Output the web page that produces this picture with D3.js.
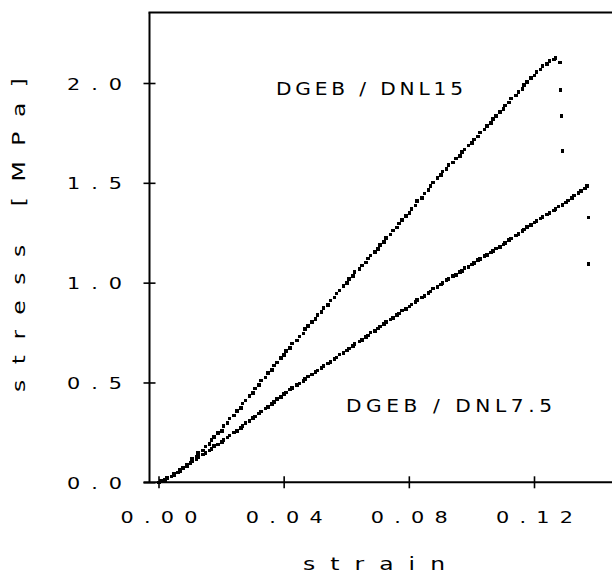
<!DOCTYPE html>
<html>
<head>
<meta charset="utf-8">
<script src="https://cdn.jsdelivr.net/npm/d3@7"></script>
<style>
  html, body { margin: 0; padding: 0; background: #fff; }
  svg { display: block; }
  text { font-family: "DejaVu Sans", "Liberation Sans", sans-serif; fill: #000; }
</style>
</head>
<body>
<svg id="chart" width="612" height="574"></svg>
<script>
// Tensile test: stress vs strain for two DGEB / DNL formulations
const xTickValues = [0, 0.04, 0.08, 0.12];
const xTickLabels = ["0.00", "0.04", "0.08", "0.12"];
const yTickValues = [0, 0.5, 1.0, 1.5, 2.0];
const yTickLabels = ["0.0", "0.5", "1.0", "1.5", "2.0"];

const seriesNames = ["DGEB / DNL15", "DGEB / DNL7.5"];

// DGEB / DNL15
const strainDNL15 = [
  0.0002,0.0008,0.0021,0.0027,0.0042,0.0050,0.0063,0.0069,0.0078,0.0091,
  0.0102,0.0108,0.0121,0.0127,0.0142,0.0150,0.0163,0.0169,0.0178,0.0191,
  0.0202,0.0208,0.0221,0.0227,0.0242,0.0250,0.0263,0.0269,0.0278,0.0291,
  0.0302,0.0308,0.0321,0.0327,0.0342,0.0350,0.0363,0.0369,0.0378,0.0391,
  0.0402,0.0408,0.0421,0.0427,0.0442,0.0450,0.0463,0.0469,0.0478,0.0491,
  0.0502,0.0508,0.0521,0.0527,0.0542,0.0550,0.0563,0.0569,0.0578,0.0591,
  0.0602,0.0608,0.0621,0.0627,0.0642,0.0650,0.0663,0.0669,0.0678,0.0691,
  0.0702,0.0708,0.0721,0.0727,0.0742,0.0750,0.0763,0.0769,0.0778,0.0791,
  0.0802,0.0808,0.0821,0.0827,0.0842,0.0850,0.0863,0.0869,0.0878,0.0891,
  0.0902,0.0908,0.0921,0.0927,0.0942,0.0950,0.0963,0.0969,0.0978,0.0991,
  0.1002,0.1008,0.1021,0.1027,0.1042,0.1050,0.1063,0.1069,0.1078,0.1091,
  0.1102,0.1108,0.1121,0.1127,0.1142,0.1150,0.1163,0.1169,0.1178,0.1191,
  0.1202,0.1208,0.1221,0.1227,0.1242,0.1250,0.1263,0.1269,0.1283,
  0.1285,0.1288,0.1291
];
const stressDNL15 = [
  0.000,0.006,0.011,0.021,0.029,0.041,0.049,0.063,0.074,0.089,
  0.099,0.117,0.128,0.148,0.160,0.180,0.193,0.213,0.226,0.246,
  0.258,0.281,0.296,0.319,0.334,0.357,0.372,0.395,0.410,0.433,
  0.448,0.470,0.486,0.509,0.524,0.546,0.561,0.585,0.600,0.622,
  0.638,0.659,0.674,0.695,0.710,0.731,0.746,0.768,0.782,0.804,
  0.818,0.838,0.853,0.874,0.889,0.910,0.925,0.946,0.961,0.982,
  0.998,1.018,1.032,1.052,1.067,1.086,1.100,1.121,1.135,1.155,
  1.168,1.189,1.205,1.225,1.241,1.261,1.277,1.297,1.313,1.333,
  1.348,1.370,1.386,1.408,1.425,1.446,1.463,1.484,1.501,1.523,
  1.538,1.556,1.570,1.588,1.602,1.621,1.634,1.653,1.666,1.686,
  1.699,1.718,1.733,1.752,1.767,1.786,1.801,1.820,1.835,1.854,
  1.869,1.888,1.903,1.922,1.937,1.956,1.971,1.990,2.005,2.024,
  2.038,2.055,2.068,2.084,2.095,2.109,2.117,2.126,2.102,
  1.965,1.835,1.660
];

// DGEB / DNL7.5
const strainDNL75 = [
  0.0002,0.0008,0.0021,0.0027,0.0042,0.0050,0.0063,0.0069,0.0078,0.0091,
  0.0102,0.0108,0.0121,0.0127,0.0142,0.0150,0.0163,0.0169,0.0178,0.0191,
  0.0202,0.0208,0.0221,0.0227,0.0242,0.0250,0.0263,0.0269,0.0278,0.0291,
  0.0302,0.0308,0.0321,0.0327,0.0342,0.0350,0.0363,0.0369,0.0378,0.0391,
  0.0402,0.0408,0.0421,0.0427,0.0442,0.0450,0.0463,0.0469,0.0478,0.0491,
  0.0502,0.0508,0.0521,0.0527,0.0542,0.0550,0.0563,0.0569,0.0578,0.0591,
  0.0602,0.0608,0.0621,0.0627,0.0642,0.0650,0.0663,0.0669,0.0678,0.0691,
  0.0702,0.0708,0.0721,0.0727,0.0742,0.0750,0.0763,0.0769,0.0778,0.0791,
  0.0802,0.0808,0.0821,0.0827,0.0842,0.0850,0.0863,0.0869,0.0878,0.0891,
  0.0902,0.0908,0.0921,0.0927,0.0942,0.0950,0.0963,0.0969,0.0978,0.0991,
  0.1002,0.1008,0.1021,0.1027,0.1042,0.1050,0.1063,0.1069,0.1078,0.1091,
  0.1102,0.1108,0.1121,0.1127,0.1142,0.1150,0.1163,0.1169,0.1178,0.1191,
  0.1202,0.1208,0.1221,0.1227,0.1242,0.1250,0.1263,0.1269,0.1278,0.1291,
  0.1302,0.1308,0.1321,0.1327,0.1342,0.1350,0.1363,0.1369,
  0.1374,0.1374
];
const stressDNL75 = [
  0.000,0.004,0.013,0.019,0.030,0.037,0.049,0.057,0.071,0.081,
  0.096,0.104,0.117,0.126,0.139,0.147,0.160,0.168,0.181,0.189,
  0.201,0.211,0.225,0.234,0.249,0.258,0.273,0.282,0.297,0.306,
  0.321,0.330,0.345,0.354,0.369,0.378,0.393,0.402,0.417,0.426,
  0.441,0.450,0.464,0.473,0.486,0.495,0.508,0.517,0.530,0.539,
  0.551,0.560,0.574,0.582,0.596,0.604,0.618,0.626,0.640,0.648,
  0.661,0.670,0.684,0.692,0.706,0.714,0.728,0.736,0.750,0.758,
  0.771,0.780,0.794,0.802,0.816,0.824,0.838,0.846,0.860,0.868,
  0.881,0.890,0.904,0.912,0.926,0.934,0.948,0.956,0.970,0.978,
  0.991,0.999,1.012,1.019,1.032,1.039,1.052,1.059,1.072,1.079,
  1.091,1.099,1.112,1.119,1.132,1.139,1.152,1.159,1.172,1.179,
  1.191,1.200,1.214,1.222,1.236,1.244,1.258,1.266,1.280,1.288,
  1.301,1.309,1.322,1.329,1.342,1.349,1.362,1.369,1.382,1.389,
  1.401,1.412,1.425,1.436,1.448,1.459,1.472,1.485,
  1.327,1.093
];

const svg = d3.select("#chart");
const W = 612, H = 574;

const x = d3.scaleLinear().domain([0, 0.12]).range([158.5, 534]);
const y = d3.scaleLinear().domain([0, 2]).range([482.3, 83]);

const frameLeft = 149.5, frameTop = 12.5, frameBottom = y(0);

// wide, tracked lettering: text stretched horizontally and spread to a set length
function wideText(parent, str, opts) {
  const sx = opts.stretch || 1.3;
  const g = parent.append("g")
    .attr("transform", `translate(${opts.x},${opts.y})${opts.rotate ? ` rotate(${opts.rotate})` : ""} scale(${sx},1)`);
  return g.append("text")
    .attr("x", 0).attr("y", 0)
    .attr("text-anchor", opts.anchor || "start")
    .attr("font-size", opts.size)
    .attr("textLength", opts.length / sx)
    .attr("lengthAdjust", "spacing")
    .text(str);
}

// frame: left axis, top border, bottom axis
svg.append("line")
  .attr("x1", frameLeft).attr("x2", frameLeft)
  .attr("y1", frameTop).attr("y2", frameBottom)
  .attr("stroke", "#000").attr("stroke-width", 2);
svg.append("line")
  .attr("x1", frameLeft - 1).attr("x2", W + 2)
  .attr("y1", frameTop).attr("y2", frameTop)
  .attr("stroke", "#000").attr("stroke-width", 2);
svg.append("line")
  .attr("x1", frameLeft - 6).attr("x2", W + 2)
  .attr("y1", frameBottom).attr("y2", frameBottom)
  .attr("stroke", "#000").attr("stroke-width", 2);

// x axis ticks crossing the axis line
const xAxis = d3.axisBottom(x)
  .tickValues(xTickValues)
  .tickSize(12)
  .tickFormat("");
const gx = svg.append("g")
  .attr("transform", `translate(0,${frameBottom - 6})`)
  .call(xAxis);
gx.select(".domain").remove();
gx.selectAll(".tick line").attr("stroke", "#000").attr("stroke-width", 1.6);
gx.selectAll(".tick").each(function (d, i) {
  wideText(d3.select(this), xTickLabels[i], { x: 0, y: 47, size: 16, length: 77, anchor: "middle", stretch: 1.3 });
});

// y axis ticks crossing the axis line
const yAxis = d3.axisLeft(y)
  .tickValues(yTickValues)
  .tickSize(12)
  .tickFormat("");
const gy = svg.append("g")
  .attr("transform", `translate(${frameLeft + 6},0)`)
  .call(yAxis);
gy.select(".domain").remove();
gy.selectAll(".tick line").attr("stroke", "#000").attr("stroke-width", 1.6);
gy.selectAll(".tick").each(function (d, i) {
  wideText(d3.select(this), yTickLabels[i], { x: 67 - (frameLeft + 6), y: 6, size: 16, length: 55, anchor: "start", stretch: 1.3 });
});

// data points as small square markers
function drawSeries(strain, stress) {
  const pts = strain.map((s, i) => [s, stress[i]]);
  svg.append("g")
    .attr("shape-rendering", "crispEdges")
    .selectAll("rect")
    .data(pts)
    .join("rect")
    .attr("x", d => x(d[0]) - 1.8)
    .attr("y", d => y(d[1]) - 1.8)
    .attr("width", 3.6)
    .attr("height", 3.6)
    .attr("fill", "#000");
}
drawSeries(strainDNL15, stressDNL15);
drawSeries(strainDNL75, stressDNL75);

// series labels
wideText(svg, seriesNames[0], { x: 276, y: 95, size: 18, length: 187, stretch: 1.12 });
wideText(svg, seriesNames[1], { x: 346, y: 412, size: 18, length: 206, stretch: 1.12 });

// axis titles
wideText(svg, "strain", { x: 374, y: 570, size: 18, length: 142, anchor: "middle", stretch: 1.3 });
wideText(svg, "stress [MPa]", { x: 25, y: 235, size: 18, length: 314, anchor: "middle", rotate: -90, stretch: 1.3 });
</script>
</body>
</html>
